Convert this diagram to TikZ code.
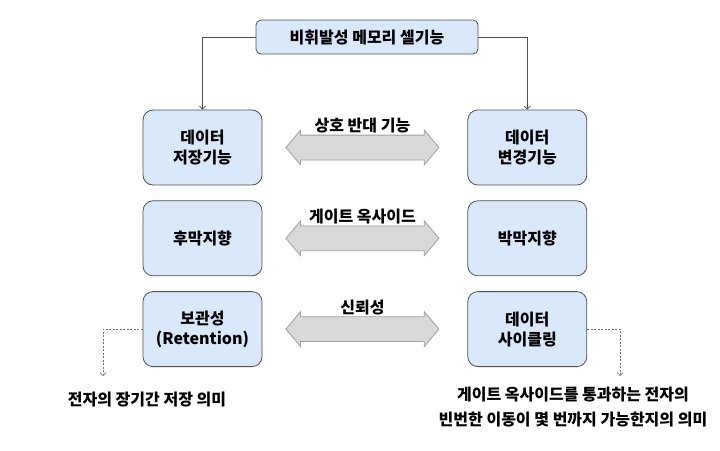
\documentclass[tikz,border=0pt]{standalone}
\usepackage{fontspec}
\setmainfont{Noto Sans CJK KR}
\usepackage{tikz}
\usetikzlibrary{shapes,arrows,arrows.meta,positioning}
\definecolor{boxblue}{RGB}{218, 232, 252}
\definecolor{boxline}{RGB}{80, 80, 80}
\definecolor{arrowgray}{RGB}{217, 217, 217}
\definecolor{arrowline}{RGB}{160, 160, 160}
\tikzstyle{topbox} = [rectangle, rounded corners=5pt, draw=boxline, line width=0.8pt, fill=boxblue, text=black, text centered, font=\bfseries\fontsize{16pt}{18pt}\selectfont, minimum width=222pt, minimum height=34pt]
\tikzstyle{cellbox} = [rectangle, rounded corners=10pt, draw=boxline, line width=0.8pt, fill=boxblue, text=black, align=center, font=\bfseries\fontsize{16pt}{20pt}\selectfont, minimum width=119pt, minimum height=75pt]
\tikzstyle{dblarrow} = [double arrow, draw=arrowline, line width=0.8pt, fill=arrowgray, minimum height=153pt, inner xsep=0pt, inner ysep=12pt, double arrow head extend=5pt, double arrow tip angle=100]
\tikzstyle{textonly} = [draw=none, fill=none, align=center, inner sep=1pt, font=\bfseries\fontsize{16pt}{25pt}\selectfont]
\tikzstyle{tedge}  = [draw, line width=0.7pt, boxline, -{Straight Barb[length=3pt,width=6pt]}]
\tikzstyle{nedge}  = [draw, line width=0.7pt, boxline!80, dash pattern=on 2pt off 1.5pt, -{Straight Barb[length=3pt,width=6pt]}]

\begin{document}
\begin{tikzpicture}[auto]
\useasboundingbox (0,0) rectangle (720pt,-450pt);

% boxes =============================

% nodes
\node[topbox] (cell) at (367pt,-37pt) {비휘발성 메모리 셀기능};
\node[cellbox] (store) at (202.5pt,-147.5pt) {데이터\\저장기능};
\node[cellbox, below=15pt of store] (thick) {후막지향};
\node[cellbox, below=15pt of thick] (retain) {보관성\\(Retention)};
\node[cellbox, right=205pt of store] (change) {데이터\\변경기능};
\node[cellbox, right=205pt of thick] (thin) {박막지향};
\node[cellbox, right=205pt of retain] (cycle) {데이터\\사이클링};

% double arrows
\node[dblarrow, right=23pt of store] (arr1) {};
\node[dblarrow, right=23pt of thick] (arr2) {};
\node[dblarrow, right=23pt of retain] (arr3) {};
\node[textonly, above=0pt of arr1] (opp) {상호 반대 기능};
\node[textonly, above=0pt of arr2] (oxide) {게이트 옥사이드};
\node[textonly, above=0pt of arr3] (rel) {신뢰성};

% notes
\coordinate (retain_end) at (103pt,-376pt);
\coordinate (cycle_end) at (620pt,-376pt);
\node[textonly] (retain_note) at (147pt,-400pt) {전자의 장기간 저장 의미};
\node[textonly] (cycle_note) at (573pt,-407pt) {게이트 옥사이드를 통과하는 전자의\\빈번한 이동이 몇 번까지 가능한지의 의미};

% edges
\path[tedge] (cell.west) -| (store.north);
\path[tedge] (cell.east) -| (change.north);
\path[nedge] (retain.west) -| (retain_end);
\path[nedge] (cycle.east) -| (cycle_end);

\end{tikzpicture}
\end{document}
